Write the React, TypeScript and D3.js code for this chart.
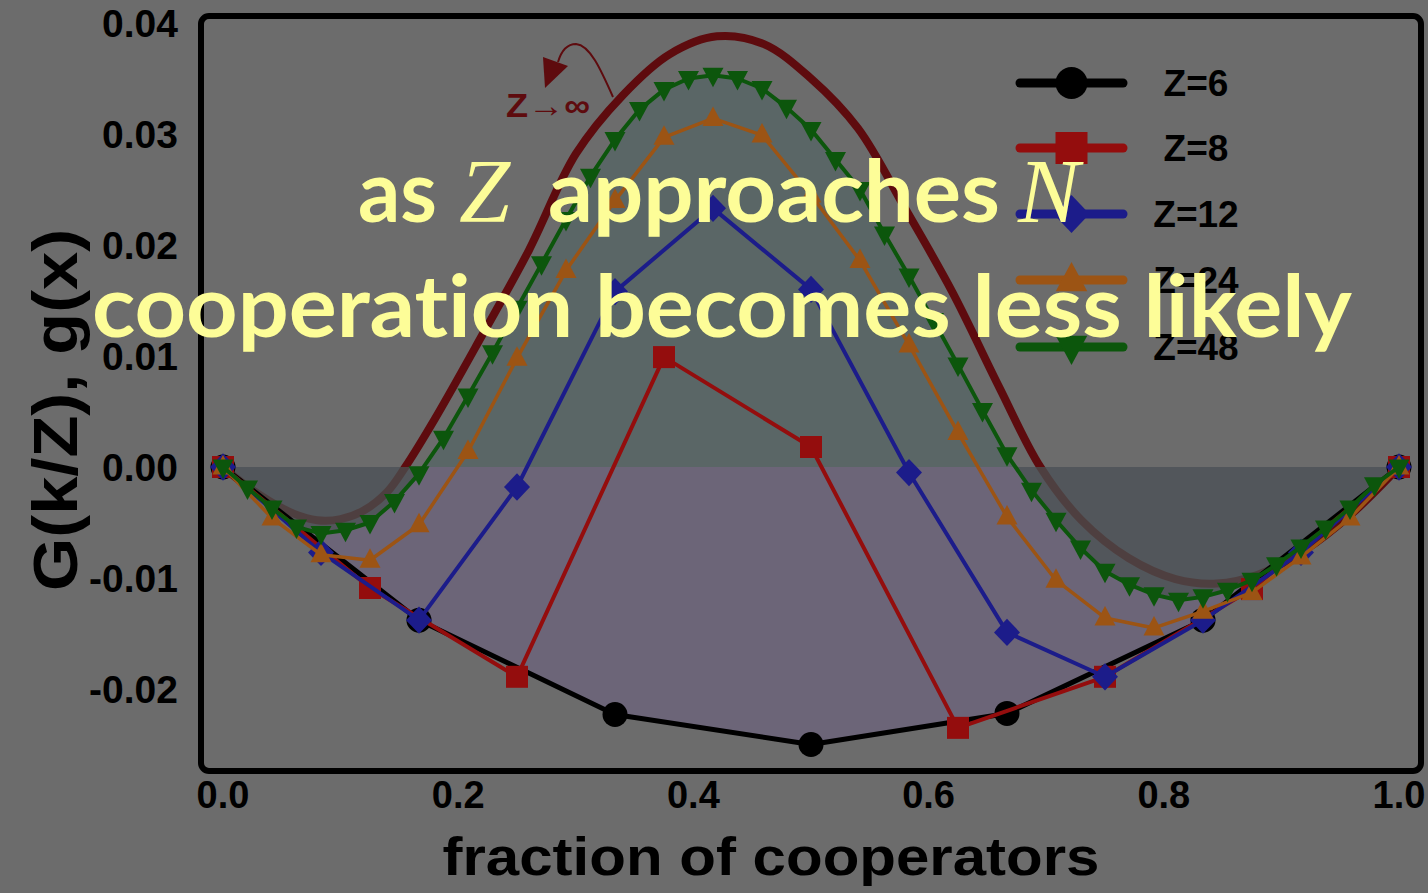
import React from "react";
import * as d3 from "d3";

// Gradient of selection G(k/Z) for finite populations, and the infinite-population limit g(x)
const z6 = [0, -0.0138, -0.0223, -0.025, -0.0222, -0.0138, 0];
const z8 = [0, -0.0109, -0.0189, 0.0099, 0.0018, -0.0235, -0.0189, -0.011, 0];
const z12 = [0, -0.0077, -0.0138, -0.0018, 0.0158, 0.0233, 0.016, -0.0005, -0.0149, -0.0189, -0.0138, -0.0077, 0];
const z24 = [
  0, -0.0046, -0.0079, -0.0084, -0.0052, 0.0014, 0.0098, 0.0177, 0.024, 0.0297, 0.0314, 0.0299, 0.0245,
  0.0186, 0.011, 0.0031, -0.0045, -0.0102, -0.0136, -0.0145, -0.013, -0.0113, -0.0081, -0.0046, 0,
];
const z48 = [
  0, -0.0019, -0.0037, -0.0054, -0.006, -0.0057, -0.005, -0.0031, -0.0006, 0.0026, 0.0064, 0.0103, 0.0143,
  0.0183, 0.0223, 0.0262, 0.0295, 0.0322, 0.034, 0.035, 0.0353, 0.035, 0.0341, 0.0324, 0.0304, 0.0277,
  0.025, 0.021, 0.0172, 0.0132, 0.0092, 0.0051, 0.0011, -0.0021, -0.0048, -0.0073, -0.0094, -0.0106,
  -0.0115, -0.012, -0.0117, -0.0111, -0.0102, -0.0088, -0.0072, -0.0055, -0.0037, -0.0016, 0,
];
// g(x) sampled along the smooth Z -> infinity curve
const gInfX = [0, 0.02, 0.04, 0.06, 0.08, 0.1, 0.12, 0.14, 0.155, 0.18, 0.22, 0.26, 0.3, 0.34, 0.38, 0.42, 0.46, 0.5, 0.54, 0.58, 0.62, 0.66, 0.695, 0.73, 0.77, 0.81, 0.845, 0.88, 0.92, 0.96, 1];
const gInfY = [0, -0.0017, -0.0031, -0.0042, -0.0048, -0.0047, -0.0039, -0.0022, 0, 0.0043, 0.0118, 0.0195, 0.0282, 0.0335, 0.0372, 0.0388, 0.0381, 0.035, 0.0305, 0.0233, 0.0158, 0.0072, 0, -0.0048, -0.0082, -0.0101, -0.0105, -0.0097, -0.0075, -0.0042, 0];

const xTicks = [0, 0.2, 0.4, 0.6, 0.8, 1.0];
const yTicks = [0.04, 0.03, 0.02, 0.01, 0.0, -0.01, -0.02];
const seriesLabels = ["Z=6", "Z=8", "Z=12", "Z=24", "Z=48"];

type Shape = "circle" | "square" | "diamond" | "triUp" | "triDown";

function shapePath(shape: Shape, s: number): string {
  switch (shape) {
    case "circle":
      return d3.symbol().type(d3.symbolCircle).size(Math.PI * s * s)()!;
    case "square":
      return `M${-s},${-s}H${s}V${s}H${-s}Z`;
    case "diamond":
      return `M0,${-s * 1.05}L${s},0L0,${s * 1.05}L${-s},0Z`;
    case "triUp":
      return `M0,${-s * 1.2}L${s * 1.05},${s * 0.75}L${-s * 1.05},${s * 0.75}Z`;
    case "triDown":
      return `M0,${s * 1.2}L${s * 1.05},${-s * 0.75}L${-s * 1.05},${-s * 0.75}Z`;
  }
}

const FONT = "'Liberation Sans', Arial, Helvetica, sans-serif";
const MAROON = "#5e0b0e";

export default function App() {
  const x = d3.scaleLinear().domain([0, 1]).range([223, 1399]);
  const y = d3.scaleLinear().domain([-0.02, 0.04]).range([689, 23]);

  const toPts = (vals: number[]) => vals.map((v, i) => [i / (vals.length - 1), v] as [number, number]);

  const series = [
    { label: seriesLabels[0], pts: toPts(z6), color: "#000000", width: 5, shape: "circle" as Shape, size: 12.5, legSize: 16 },
    { label: seriesLabels[1], pts: toPts(z8), color: "#940d0d", width: 4, shape: "square" as Shape, size: 11, legSize: 16 },
    { label: seriesLabels[2], pts: toPts(z12), color: "#1c1c8a", width: 4, shape: "diamond" as Shape, size: 13, legSize: 18 },
    { label: seriesLabels[3], pts: toPts(z24), color: "#9c5414", width: 3.5, shape: "triUp" as Shape, size: 10, legSize: 15 },
    { label: seriesLabels[4], pts: toPts(z48), color: "#0c560c", width: 4, shape: "triDown" as Shape, size: 10, legSize: 15 },
  ];

  const line = d3
    .line<[number, number]>()
    .x((d) => x(d[0]))
    .y((d) => y(d[1]));
  const area = d3
    .area<[number, number]>()
    .x((d) => x(d[0]))
    .y0(y(0))
    .y1((d) => y(d[1]));
  const gInfPts = gInfX.map((v, i) => [v, gInfY[i]] as [number, number]);
  const smooth = d3
    .line<[number, number]>()
    .x((d) => x(d[0]))
    .y((d) => y(d[1]))
    .curve(d3.curveCatmullRom.alpha(0.5));

  const legendX0 = 1020;
  const legendX1 = 1123;
  const legendYs = [83, 148, 214, 280, 347];
  const zeroY = y(0);

  return (
    <svg
      width={1428}
      height={893}
      style={{ position: "absolute", left: 0, top: 0, display: "block" }}
      xmlns="http://www.w3.org/2000/svg"
    >
      <defs>
        <clipPath id="above">
          <rect x={0} y={0} width={1428} height={zeroY} />
        </clipPath>
        <clipPath id="below">
          <rect x={0} y={zeroY} width={1428} height={893 - zeroY} />
        </clipPath>
      </defs>
      <rect x={0} y={0} width={1428} height={893} fill="#6c6c6c" />

      {/* shaded region enclosed by Z=6 below zero */}
      <path d={area(series[0].pts)!} fill="#6c5a8c" fillOpacity={0.38} />

      {/* Z -> infinity limit */}
      <path d={smooth(gInfPts)!} fill="none" stroke={MAROON} strokeWidth={8} />

      {/* shaded region enclosed by Z=48, above and below zero */}
      <path d={area(series[4].pts)!} fill="#486060" fillOpacity={0.5} clipPath="url(#above)" />
      <path d={area(series[4].pts)!} fill="#4a5252" fillOpacity={0.75} clipPath="url(#below)" />

      {series.map((s) => (
        <g key={s.label}>
          <path d={line(s.pts)!} fill="none" stroke={s.color} strokeWidth={s.width} strokeLinejoin="round" />
          {s.pts.map((p, i) => (
            <path key={i} d={shapePath(s.shape, s.size)} transform={`translate(${x(p[0])},${y(p[1])})`} fill={s.color} />
          ))}
        </g>
      ))}

      {/* annotation for the infinite-population curve */}
      <path d="M613,97 C601,70 590,45 576,44 C566,44 561,52 558,62" fill="none" stroke={MAROON} strokeWidth={2} />
      <path d="M545,88 L543,57 L568,66 Z" fill={MAROON} />
      <text x={506} y={117} fontFamily={FONT} fontWeight="bold" fontSize={34} textLength={84} lengthAdjust="spacingAndGlyphs" fill={MAROON}>
        Z→∞
      </text>

      {/* frame */}
      <rect x={201} y={16} width={1220} height={755} rx={8} fill="none" stroke="#000" strokeWidth={6} />

      {/* axes labels */}
      {yTicks.map((t) => (
        <text
          key={t}
          x={178}
          y={y(t)}
          dy="0.36em"
          textAnchor="end"
          fontFamily={FONT}
          fontWeight="bold"
          fontSize={39}
          fill="#000"
        >
          {t.toFixed(2)}
        </text>
      ))}
      {xTicks.map((t) => (
        <text key={t} x={x(t)} y={808} textAnchor="middle" fontFamily={FONT} fontWeight="bold" fontSize={38} fill="#000">
          {t.toFixed(1)}
        </text>
      ))}
      <text
        x={771}
        y={875}
        textAnchor="middle"
        fontFamily={FONT}
        fontWeight="bold"
        fontSize={54}
        textLength={657}
        lengthAdjust="spacingAndGlyphs"
        fill="#000"
      >
        fraction of cooperators
      </text>
      <text
        transform="translate(77,410) rotate(-90)"
        textAnchor="middle"
        fontFamily={FONT}
        fontWeight="bold"
        fontSize={63}
        textLength={362}
        lengthAdjust="spacingAndGlyphs"
        fill="#000"
      >
        G(k/Z), g(x)
      </text>

      {/* legend */}
      {series.map((s, i) => (
        <g key={"leg" + s.label}>
          <line
            x1={legendX0}
            x2={legendX1}
            y1={legendYs[i]}
            y2={legendYs[i]}
            stroke={s.color}
            strokeWidth={9}
            strokeLinecap="round"
          />
          <path
            d={shapePath(s.shape, s.legSize)}
            transform={`translate(${(legendX0 + legendX1) / 2},${legendYs[i]})`}
            fill={s.color}
          />
          <text
            x={1196}
            y={legendYs[i]}
            dy="0.36em"
            textAnchor="middle"
            fontFamily={FONT}
            fontWeight="bold"
            fontSize={37}
            fill="#000"
          >
            {s.label}
          </text>
        </g>
      ))}

      {/* headline */}
      <g
        fill="#fdfd98"
        fontWeight="bold"
        fontFamily="Lato, 'Open Sans', sans-serif"
        fontSize={86}
        style={{ fontVariantLigatures: "none", fontFeatureSettings: "'liga' 0, 'clig' 0" }}
      >
        <text x={358} y={222} textLength={79} lengthAdjust="spacingAndGlyphs">
          as
        </text>
        <text x={459} y={222} fontFamily="'Liberation Serif', 'DejaVu Serif', serif" fontStyle="italic" fontWeight="normal" fontSize={92}>
          Z
        </text>
        <text x={548} y={222} textLength={452} lengthAdjust="spacingAndGlyphs">
          approaches
        </text>
        <text x={1018} y={222} fontFamily="'Liberation Serif', 'DejaVu Serif', serif" fontStyle="italic" fontWeight="normal" fontSize={92}>
          N
        </text>
        <text x={92} y={337} textLength={1260} lengthAdjust="spacingAndGlyphs">
          cooperation becomes less likely
        </text>
      </g>
    </svg>
  );
}
